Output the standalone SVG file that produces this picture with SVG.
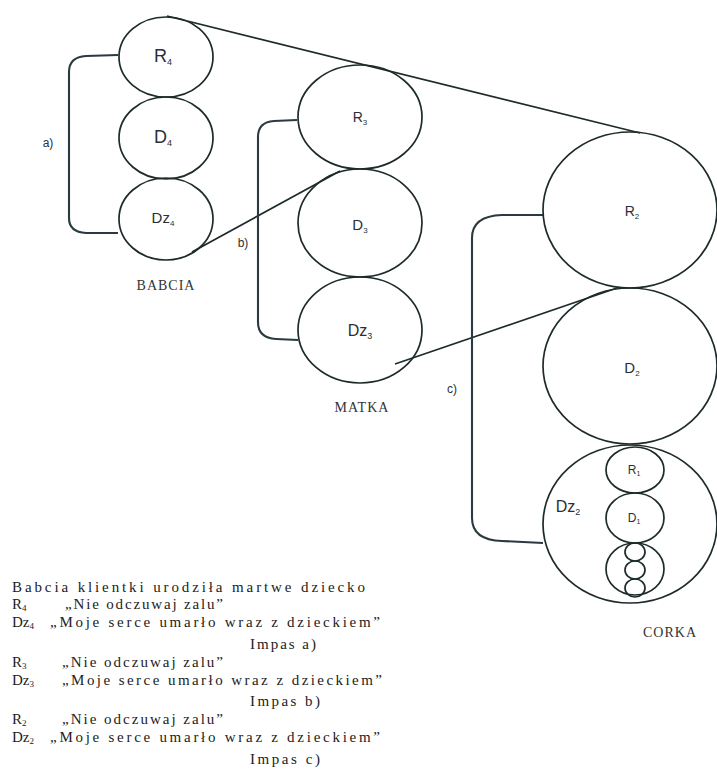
<svg xmlns="http://www.w3.org/2000/svg" width="717" height="784" viewBox="0 0 717 784">
<style>
.n{fill:none;stroke:#1e2b2b;stroke-width:1.7}
.c{fill:none;stroke:#1e2b2b;stroke-width:1.7}
.b{fill:none;stroke:#2a3a3e;stroke-width:2.1}
.l{font-family:"Liberation Sans",Arial,sans-serif;fill:#2a3038;text-anchor:middle}
.s{font-family:"Liberation Serif","Times New Roman",serif;fill:#222;font-size:15px}
.t{font-family:"Liberation Serif","Times New Roman",serif;fill:#333;font-size:14px;text-anchor:middle;letter-spacing:1px}
</style>
<rect width="717" height="784" fill="#fff"/>
<g id="connectors">
<line class="c" x1="167" y1="16" x2="640" y2="133"/>
<line class="c" x1="192" y1="252" x2="340" y2="171"/>
<line class="c" x1="395" y1="364" x2="617" y2="288"/>
<path class="b" d="M118,55 L86,56 Q69,57 69,72 L69,218 Q69,232 86,233 L118,233"/>
<path class="b" d="M297,120 L274,121 Q258,122 258,137 L258,322 Q258,338 276,339 L298,340"/>
<path class="b" d="M543,215 L502,215 Q472,216 472,238 L472,518 Q472,540 502,541 L543,543"/>
<text class="l" x="48" y="147" font-size="12">a)</text>
<text class="l" x="243" y="247" font-size="12">b)</text>
<text class="l" x="452" y="393" font-size="12">c)</text>
</g>
<g id="babcia">
<ellipse class="n" cx="166" cy="57" rx="47" ry="40"/>
<ellipse class="n" cx="166" cy="138" rx="47" ry="41"/>
<ellipse class="n" cx="166" cy="219" rx="47" ry="41"/>
<text class="l" x="163" y="62" font-size="18">R<tspan font-size="9" dy="3">4</tspan></text>
<text class="l" x="163" y="143" font-size="18">D<tspan font-size="9" dy="3">4</tspan></text>
<text class="l" x="163" y="223" font-size="15">Dz<tspan font-size="8" dy="3">4</tspan></text>
<text class="t" x="166" y="290">BABCIA</text>
</g>
<g id="matka">
<ellipse class="n" cx="360" cy="117" rx="62" ry="52"/>
<ellipse class="n" cx="360" cy="223" rx="62" ry="54"/>
<ellipse class="n" cx="360" cy="330" rx="62" ry="53"/>
<text class="l" x="360" y="122" font-size="14">R<tspan font-size="8" dy="3">3</tspan></text>
<text class="l" x="360" y="230" font-size="15">D<tspan font-size="8" dy="3">3</tspan></text>
<text class="l" x="360" y="336" font-size="16">Dz<tspan font-size="9" dy="3">3</tspan></text>
<text class="t" x="362" y="412">MATKA</text>
</g>
<g id="corka">
<ellipse class="n" cx="630" cy="210" rx="87" ry="78"/>
<ellipse class="n" cx="630" cy="366" rx="87" ry="78"/>
<ellipse class="n" cx="630" cy="524" rx="87" ry="79"/>
<text class="l" x="632" y="216" font-size="14">R<tspan font-size="8" dy="3">2</tspan></text>
<text class="l" x="632" y="373" font-size="15">D<tspan font-size="8" dy="3">2</tspan></text>
<text class="l" x="568" y="512" font-size="16">Dz<tspan font-size="9" dy="3">2</tspan></text>
<ellipse class="n" cx="635" cy="470" rx="29" ry="23"/>
<ellipse class="n" cx="635" cy="518" rx="29" ry="25"/>
<ellipse class="n" cx="635" cy="569" rx="29" ry="26"/>
<text class="l" x="634" y="474" font-size="12">R<tspan font-size="7" dy="2">1</tspan></text>
<text class="l" x="634" y="522" font-size="12">D<tspan font-size="7" dy="2">1</tspan></text>
<ellipse class="n" cx="635" cy="552" rx="10" ry="9"/>
<ellipse class="n" cx="635" cy="570" rx="10" ry="9"/>
<ellipse class="n" cx="635" cy="588" rx="10" ry="9"/>
<text class="t" x="670" y="637">CORKA</text>
</g>
<g id="legend">
<text class="s" x="12" y="592" textLength="353" lengthAdjust="spacing">Babcia klientki urodziła martwe dziecko</text>
<text class="s" x="12" y="609">R<tspan font-size="9" dy="2">4</tspan></text>
<text class="s" x="65" y="609" textLength="158" lengthAdjust="spacing">„Nie odczuwaj zalu”</text>
<text class="s" x="12" y="627">Dz<tspan font-size="9" dy="2">4</tspan></text>
<text class="s" x="50" y="627" textLength="330" lengthAdjust="spacing">„Moje serce umarło wraz z dzieckiem”</text>
<text class="s" x="250" y="649" textLength="66" lengthAdjust="spacing">Impas a)</text>
<text class="s" x="12" y="667">R<tspan font-size="9" dy="2">3</tspan></text>
<text class="s" x="62" y="667" textLength="161" lengthAdjust="spacing">„Nie odczuwaj zalu”</text>
<text class="s" x="12" y="685">Dz<tspan font-size="9" dy="2">3</tspan></text>
<text class="s" x="62" y="685" textLength="320" lengthAdjust="spacing">„Moje serce umarło wraz z dzieckiem”</text>
<text class="s" x="250" y="706" textLength="70" lengthAdjust="spacing">Impas b)</text>
<text class="s" x="12" y="724">R<tspan font-size="9" dy="2">2</tspan></text>
<text class="s" x="62" y="724" textLength="161" lengthAdjust="spacing">„Nie odczuwaj zalu”</text>
<text class="s" x="12" y="742">Dz<tspan font-size="9" dy="2">2</tspan></text>
<text class="s" x="50" y="742" textLength="330" lengthAdjust="spacing">„Moje serce umarło wraz z dzieckiem”</text>
<text class="s" x="250" y="764" textLength="70" lengthAdjust="spacing">Impas c)</text>
</g>
</svg>
